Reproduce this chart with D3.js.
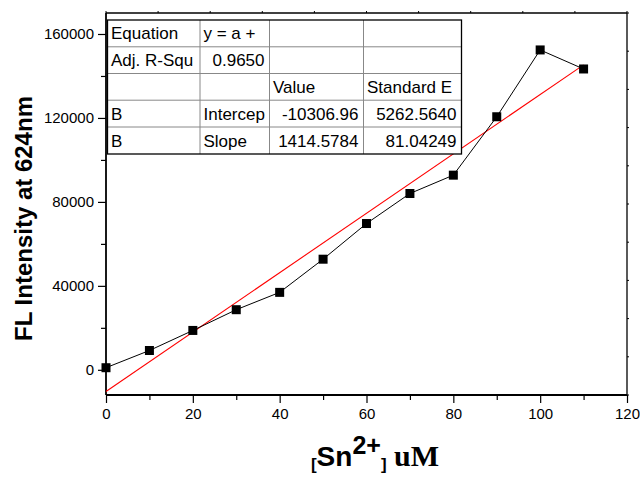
<!DOCTYPE html>
<html>
<head>
<meta charset="utf-8">
<script src="https://cdn.jsdelivr.net/npm/d3@7"></script>
<style>
  body { margin: 0; background: #fff; }
  svg { display: block; font-family: "Liberation Sans", Arial, sans-serif; }
</style>
</head>
<body>
<svg id="chart" width="640" height="477"></svg>
<script>
// Sn2+ concentration (uM) and fluorescence intensity at 624 nm
const concentration = [0, 10, 20, 30, 40, 50, 60, 70, 80, 90, 100, 110];
const intensity = [1000, 9200, 18760, 28640, 36900, 52700, 69700, 84000, 92740, 120570, 152400, 143330];

// linear fit parameters
const intercept = -10306.96;
const slope = 1414.5784;

const xTicks = [0, 20, 40, 60, 80, 100, 120];
const xMinor = [10, 30, 50, 70, 90, 110];
const yTicks = [0, 40000, 80000, 120000, 160000];
const yMinor = [20000, 60000, 100000, 140000];

// fit summary table
const tableRows = [
  ["Equation", "y = a +", "", ""],
  ["Adj. R-Squ", "0.9650", "", ""],
  ["", "", "Value", "Standard E"],
  ["B", "Intercep", "-10306.96", "5262.5640"],
  ["B", "Slope", "1414.5784", "81.04249"]
];

const svg = d3.select("#chart");
const pl = 106, pr = 627, pt = 13, pb = 395;

const x = d3.scaleLinear().domain([0, 120]).range([pl, pr]);
const y = d3.scaleLinear().domain([-12000, 170000]).range([pb, pt]);

// frame: top and right edges with their own evenly spaced ticks
svg.append("line").attr("x1", pl).attr("x2", pr).attr("y1", pt).attr("y2", pt)
  .attr("stroke", "#000").attr("stroke-width", 1.3);
svg.append("line").attr("x1", pr).attr("x2", pr).attr("y1", pt).attr("y2", pb)
  .attr("stroke", "#000").attr("stroke-width", 1.3);
const topTicks = d3.range(0, 11).map(i => pl + i * (pr - pl) / 10);
svg.selectAll(".tt").data(topTicks).join("line")
  .attr("x1", d => d).attr("x2", d => d).attr("y1", pt).attr("y2", pt - 2)
  .attr("stroke", "#000").attr("stroke-width", 1);
const rightTicks = d3.range(0, 11).map(i => pt + i * (pb - pt) / 10);
svg.selectAll(".rt").data(rightTicks).join("line")
  .attr("x1", pr).attr("x2", pr + 2).attr("y1", d => d).attr("y2", d => d)
  .attr("stroke", "#000").attr("stroke-width", 1);

// bottom axis
const xAxis = svg.append("g").attr("transform", `translate(0,${pb})`)
  .call(d3.axisBottom(x).tickValues(xTicks).tickSize(8).tickPadding(5).tickFormat(d3.format("d")));
svg.append("g").attr("class", "minor").attr("transform", `translate(0,${pb})`)
  .call(d3.axisBottom(x).tickValues(xMinor).tickSize(5).tickFormat(""));

// left axis
const yAxis = svg.append("g").attr("transform", `translate(${pl},0)`)
  .call(d3.axisLeft(y).tickValues(yTicks).tickSize(8).tickPadding(4).tickFormat(d3.format("d")));
svg.append("g").attr("class", "minor").attr("transform", `translate(${pl},0)`)
  .call(d3.axisLeft(y).tickValues(yMinor).tickSize(5).tickFormat(""));
svg.selectAll(".minor .domain").remove();

[xAxis, yAxis].forEach(g => {
  g.select(".domain").attr("stroke-width", 1.8);
  g.selectAll(".tick text").attr("font-size", 15).attr("fill", "#000")
    .attr("font-family", "'Liberation Sans', Arial, sans-serif");
});
xAxis.select(".domain").attr("d", `M${pl},0H${pr}`);
yAxis.select(".domain").attr("d", `M0,${pt}V${pb}`);
svg.selectAll(".tick line").attr("stroke", "#000").attr("stroke-width", 1.2);

// fitted line
svg.append("line")
  .attr("x1", x(0)).attr("y1", y(intercept))
  .attr("x2", x(110)).attr("y2", y(intercept + slope * 110))
  .attr("stroke", "#ff0000").attr("stroke-width", 1.1);

// measured data
const pts = concentration.map((c, i) => [c, intensity[i]]);
svg.append("path").datum(pts)
  .attr("d", d3.line().x(d => x(d[0])).y(d => y(d[1])))
  .attr("fill", "none").attr("stroke", "#000").attr("stroke-width", 1);
svg.selectAll(".pt").data(pts).join("rect")
  .attr("x", d => x(d[0]) - 4.5).attr("y", d => y(d[1]) - 4.5)
  .attr("width", 9).attr("height", 9).attr("fill", "#000");

// fit summary table
const colX = [107.5, 200, 269.5, 363.5, 461.5];
const rowY = [20, 46.8, 73.5, 100.2, 127, 154];
const tg = svg.append("g");
tg.append("rect").attr("x", colX[0]).attr("y", rowY[0])
  .attr("width", colX[4] - colX[0]).attr("height", rowY[5] - rowY[0]).attr("fill", "#fff");
colX.slice(1, 4).forEach(cx => tg.append("line").attr("x1", cx).attr("x2", cx)
  .attr("y1", rowY[0]).attr("y2", rowY[5]).attr("stroke", "#888").attr("stroke-width", 1));
rowY.slice(1, 5).forEach(ry => tg.append("line").attr("x1", colX[0]).attr("x2", colX[4])
  .attr("y1", ry).attr("y2", ry).attr("stroke", "#888").attr("stroke-width", 1));
tg.append("rect").attr("x", colX[0]).attr("y", rowY[0])
  .attr("width", colX[4] - colX[0]).attr("height", rowY[5] - rowY[0])
  .attr("fill", "none").attr("stroke", "#000").attr("stroke-width", 1.3);

// numbers right-aligned, words left-aligned
const isNum = s => /^-?[0-9.]+$/.test(s);
tableRows.forEach((row, r) => {
  row.forEach((txt, c) => {
    if (!txt) return;
    const num = isNum(txt);
    tg.append("text")
      .attr("x", num ? colX[c + 1] - 5 : colX[c] + 3.5)
      .attr("y", (rowY[r] + rowY[r + 1]) / 2 + 6)
      .attr("text-anchor", num ? "end" : "start")
      .attr("font-size", 17).attr("fill", "#000")
      .text(txt);
  });
});

// axis titles
svg.append("text")
  .attr("transform", "translate(32,218.5) rotate(-90)")
  .attr("text-anchor", "middle")
  .attr("font-size", 24).attr("font-weight", "bold")
  .text("FL Intensity at 624nm");

const xt = svg.append("text").attr("x", 375).attr("y", 466)
  .attr("text-anchor", "middle").attr("font-weight", "bold");
xt.append("tspan").attr("font-size", 17).attr("dy", 4).text("[");
xt.append("tspan").attr("font-size", 28).attr("dy", -4).text("Sn");
xt.append("tspan").attr("font-size", 25).attr("dy", -12).text("2+");
xt.append("tspan").attr("font-size", 17).attr("dy", 16).text("]");
xt.append("tspan").attr("font-size", 30).attr("dy", -4)
  .attr("font-family", "'Liberation Serif', 'Times New Roman', serif").text(" uM");
</script>
</body>
</html>
